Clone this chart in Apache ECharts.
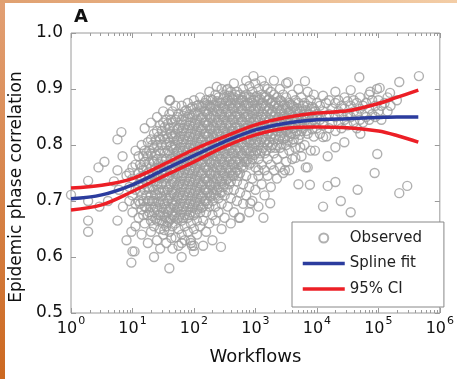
<!DOCTYPE html>
<html><head><meta charset="utf-8">
<script src="https://cdn.jsdelivr.net/npm/echarts@6/dist/echarts.min.js"></script>
<style>html,body{margin:0;padding:0;background:#fff}#c{width:457px;height:379px}</style>
</head><body><div id="c"></div>
<script>
// ---- axis ticks ----
const xTickExponents = ['0','1','2','3','4','5','6'];
const yTickValues = [0.5, 0.6, 0.7, 0.8, 0.9, 1.0];
const minorTickFactors = [2,3,4,5,6,7,8,9];
const minorTickDecades = [1,10,100,1000,10000,100000];

// ---- spline fit and 95% CI ----
const fitX      = [1, 3.16, 10, 31.6, 100, 316, 1000, 3162, 10000, 31623, 100000, 200000, 446700];
const fitY      = [0.704, 0.711, 0.729, 0.755, 0.781, 0.806, 0.827, 0.839, 0.845, 0.847, 0.849, 0.850, 0.850];
const ciUpperY  = [0.723, 0.728, 0.740, 0.765, 0.792, 0.815, 0.836, 0.849, 0.857, 0.861, 0.874, 0.885, 0.898];
const ciLowerY  = [0.684, 0.693, 0.717, 0.744, 0.770, 0.797, 0.818, 0.830, 0.832, 0.831, 0.825, 0.817, 0.805];

// ---- observed points: [workflows, [correlations...]] ----
const obsColumns = [
[8.9,[0.70,0.725,0.75]],
[10,[0.61,0.68,0.71,0.74,0.76]],
[11.2,[0.655,0.695,0.72,0.765,0.79]],
[12.6,[0.67,0.70,0.73,0.75,0.78]],
[14.1,[0.64,0.685,0.71,0.74,0.76,0.80]],
[15.8,[0.66,0.69,0.72,0.745,0.77,0.79,0.83]],
[17.8,[0.625,0.675,0.70,0.725,0.75,0.78,0.805]],
[20,[0.645,0.665,0.69,0.71,0.735,0.76,0.785,0.81,0.84]],
[22.4,[0.60,0.655,0.68,0.70,0.72,0.745,0.77,0.795,0.82]],
[25.1,[0.63,0.665,0.685,0.71,0.73,0.75,0.775,0.80,0.825,0.85]],
[28.2,[0.615,0.65,0.675,0.695,0.715,0.74,0.76,0.785,0.81,0.835]],
[31.6,[0.64,0.66,0.68,0.70,0.72,0.745,0.765,0.79,0.815,0.84,0.86]],
[35.5,[0.625,0.655,0.67,0.69,0.71,0.73,0.755,0.775,0.80,0.82,0.845]],
[39.8,[0.58,0.645,0.665,0.685,0.705,0.725,0.745,0.765,0.785,0.805,0.83,0.855,0.88]],
[44.7,[0.615,0.655,0.675,0.695,0.715,0.735,0.755,0.775,0.795,0.815,0.84,0.86]],
[50.1,[0.635,0.66,0.68,0.70,0.72,0.74,0.76,0.78,0.80,0.82,0.845,0.87]],
[56.2,[0.62,0.65,0.67,0.69,0.71,0.73,0.75,0.77,0.79,0.81,0.83,0.855]],
[63.1,[0.60,0.64,0.665,0.685,0.705,0.725,0.745,0.765,0.785,0.805,0.825,0.845,0.87]],
[70.8,[0.63,0.655,0.675,0.695,0.715,0.735,0.755,0.775,0.795,0.815,0.835,0.86]],
[79.4,[0.645,0.67,0.69,0.71,0.73,0.75,0.77,0.79,0.81,0.83,0.85,0.875]],
[89.1,[0.625,0.66,0.68,0.70,0.72,0.74,0.76,0.78,0.80,0.82,0.84,0.865]],
[100,[0.61,0.65,0.675,0.695,0.715,0.735,0.755,0.775,0.795,0.815,0.835,0.855,0.88]],
[112,[0.64,0.665,0.685,0.705,0.725,0.745,0.765,0.785,0.805,0.825,0.845,0.87]],
[126,[0.655,0.68,0.70,0.72,0.74,0.76,0.78,0.80,0.82,0.84,0.86,0.885]],
[141,[0.62,0.665,0.69,0.71,0.73,0.75,0.77,0.79,0.81,0.83,0.85,0.87]],
[158,[0.645,0.68,0.70,0.72,0.74,0.76,0.78,0.80,0.82,0.84,0.86,0.88]],
[178,[0.66,0.69,0.71,0.73,0.75,0.77,0.79,0.81,0.83,0.85,0.87,0.895]],
[200,[0.63,0.675,0.70,0.72,0.74,0.76,0.78,0.80,0.82,0.84,0.86,0.88]],
[224,[0.665,0.69,0.71,0.73,0.75,0.77,0.79,0.81,0.83,0.85,0.87,0.89]],
[251,[0.68,0.705,0.725,0.745,0.765,0.785,0.805,0.825,0.845,0.865,0.885]],
[282,[0.65,0.695,0.715,0.735,0.755,0.775,0.795,0.815,0.835,0.855,0.875,0.90]],
[316,[0.67,0.71,0.73,0.75,0.77,0.79,0.81,0.83,0.85,0.87,0.89]],
[355,[0.69,0.72,0.74,0.76,0.78,0.80,0.82,0.84,0.86,0.88,0.90]],
[398,[0.66,0.705,0.735,0.755,0.775,0.795,0.815,0.835,0.855,0.875,0.895]],
[447,[0.68,0.72,0.745,0.765,0.785,0.805,0.825,0.845,0.865,0.885,0.91]],
[501,[0.70,0.735,0.755,0.775,0.795,0.815,0.835,0.855,0.875,0.895]],
[562,[0.67,0.715,0.75,0.77,0.79,0.81,0.83,0.85,0.87,0.89]],
[631,[0.695,0.73,0.76,0.78,0.80,0.82,0.84,0.86,0.88,0.90]],
[708,[0.71,0.745,0.77,0.79,0.81,0.83,0.85,0.87,0.89,0.915]],
[794,[0.68,0.725,0.765,0.785,0.805,0.825,0.845,0.865,0.885,0.905]],
[891,[0.70,0.74,0.775,0.795,0.815,0.835,0.855,0.875,0.895]],
[1000,[0.72,0.76,0.785,0.805,0.825,0.845,0.865,0.885,0.91]],
[1120,[0.69,0.745,0.775,0.80,0.82,0.84,0.86,0.88,0.90]],
[1260,[0.73,0.765,0.79,0.81,0.83,0.85,0.87,0.89,0.915]],
[1410,[0.71,0.755,0.785,0.805,0.825,0.845,0.865,0.885,0.905]],
[1580,[0.745,0.775,0.80,0.82,0.84,0.86,0.88,0.90]],
[1780,[0.725,0.765,0.795,0.815,0.835,0.855,0.875,0.895]],
[2000,[0.755,0.785,0.81,0.83,0.85,0.87,0.89,0.915]],
[2240,[0.74,0.775,0.80,0.825,0.845,0.865,0.885]],
[2510,[0.76,0.795,0.815,0.84,0.86,0.88,0.90]],
[2820,[0.75,0.785,0.81,0.83,0.85,0.87,0.89]],
[3160,[0.77,0.80,0.825,0.845,0.865,0.885,0.91]],
[3550,[0.755,0.79,0.815,0.835,0.855,0.875]],
[3980,[0.775,0.805,0.83,0.85,0.87,0.89]],
[4470,[0.795,0.82,0.84,0.86,0.88]],
[5010,[0.73,0.81,0.835,0.855,0.875,0.90]],
[5620,[0.78,0.825,0.845,0.865,0.885]],
[6310,[0.80,0.835,0.855,0.875]],
[7080,[0.76,0.82,0.85,0.87,0.895]],
[7940,[0.79,0.84,0.86,0.88]],
[8910,[0.815,0.845,0.865,0.89]],
[10000,[0.83,0.855,0.875]],
[11200,[0.82,0.845,0.87]],
[12600,[0.835,0.86,0.888]],
[14100,[0.815,0.85,0.875]],
[15800,[0.83,0.855,0.88]],
[17800,[0.84,0.865]],
[20000,[0.825,0.85,0.875,0.895]],
[22400,[0.84,0.86,0.88]],
[25100,[0.83,0.855,0.87]],
[28200,[0.845,0.865,0.885]],
[31600,[0.835,0.855,0.878]],
[35500,[0.85,0.87,0.898]],
[39800,[0.84,0.86,0.88]],
[44700,[0.83,0.855,0.875]],
[50100,[0.845,0.865,0.885]],
[56200,[0.84,0.87]],
[63100,[0.85,0.875]],
[70800,[0.845,0.865,0.89]],
[79400,[0.855,0.88]],
[89100,[0.85,0.87]],
[100000,[0.86,0.88]],
[112000,[0.845,0.87]],
[126000,[0.875]],
[141000,[0.86,0.885]],
[158000,[0.87]],
[200000,[0.88]]
];
// dense core, in-between columns
const obsCoreColumns = [
[13.3,[0.695,0.718,0.742,0.765]],
[15.0,[0.675,0.70,0.73,0.755,0.78]],
[16.8,[0.688,0.71,0.735,0.76,0.785]],
[18.8,[0.68,0.70,0.722,0.745,0.768,0.79]],
[21.1,[0.673,0.70,0.725,0.748,0.772,0.80]],
[23.7,[0.668,0.69,0.712,0.735,0.758,0.782,0.808]],
[26.6,[0.675,0.698,0.72,0.742,0.766,0.79,0.815]],
[29.9,[0.665,0.688,0.708,0.73,0.752,0.775,0.80,0.825]],
[33.5,[0.672,0.695,0.718,0.74,0.762,0.786,0.81,0.832]],
[37.6,[0.662,0.68,0.70,0.72,0.742,0.765,0.79,0.812,0.838]],
[42.2,[0.668,0.688,0.71,0.73,0.752,0.775,0.798,0.82,0.845]],
[47.3,[0.672,0.692,0.712,0.732,0.752,0.772,0.792,0.812,0.832]],
[53.1,[0.668,0.688,0.708,0.728,0.748,0.768,0.788,0.808,0.828,0.85]],
[59.6,[0.676,0.696,0.716,0.736,0.756,0.776,0.796,0.816,0.836]],
[66.8,[0.67,0.69,0.71,0.73,0.75,0.77,0.79,0.81,0.83,0.852]],
[75.0,[0.682,0.702,0.722,0.742,0.762,0.782,0.802,0.822,0.842,0.862]],
[84.1,[0.675,0.695,0.715,0.735,0.755,0.775,0.795,0.815,0.835,0.855]],
[94.4,[0.688,0.708,0.728,0.748,0.768,0.788,0.808,0.828,0.848,0.868]],
[106,[0.678,0.698,0.718,0.738,0.758,0.778,0.798,0.818,0.838,0.858]],
[119,[0.692,0.712,0.732,0.752,0.772,0.792,0.812,0.832,0.852,0.872]],
[133,[0.688,0.708,0.728,0.748,0.768,0.788,0.808,0.828,0.848,0.868]],
[150,[0.70,0.72,0.74,0.76,0.78,0.80,0.82,0.84,0.86,0.875]],
[168,[0.695,0.715,0.735,0.755,0.775,0.795,0.815,0.835,0.855,0.872]],
[188,[0.708,0.728,0.748,0.768,0.788,0.808,0.828,0.848,0.868,0.882]],
[211,[0.712,0.732,0.752,0.772,0.792,0.812,0.832,0.852,0.872]],
[237,[0.72,0.74,0.76,0.78,0.80,0.82,0.84,0.86,0.878]],
[266,[0.715,0.735,0.755,0.775,0.795,0.815,0.835,0.855,0.875]],
[299,[0.725,0.745,0.765,0.785,0.805,0.825,0.845,0.865,0.882]],
[335,[0.738,0.758,0.778,0.798,0.818,0.838,0.858,0.878]],
[376,[0.73,0.75,0.77,0.79,0.81,0.83,0.85,0.87,0.888]],
[422,[0.745,0.765,0.785,0.805,0.825,0.845,0.865,0.882]],
[473,[0.752,0.772,0.792,0.812,0.832,0.852,0.872,0.89]],
[531,[0.745,0.765,0.785,0.805,0.825,0.845,0.865,0.882]],
[596,[0.762,0.782,0.802,0.822,0.842,0.862,0.88]],
[668,[0.77,0.79,0.81,0.83,0.85,0.87,0.887]],
[750,[0.775,0.795,0.815,0.835,0.855,0.875]],
[841,[0.768,0.788,0.808,0.828,0.848,0.868,0.885]],
[944,[0.782,0.802,0.822,0.842,0.862,0.88]],
[1060,[0.79,0.81,0.83,0.85,0.87,0.888]],
[1190,[0.785,0.805,0.825,0.845,0.865,0.882]],
[1330,[0.795,0.815,0.835,0.855,0.875]],
[1500,[0.79,0.81,0.83,0.85,0.87,0.887]],
[1680,[0.805,0.825,0.845,0.865,0.882]],
[1880,[0.80,0.82,0.84,0.86,0.878]],
[2110,[0.795,0.818,0.838,0.858,0.876]],
[2370,[0.81,0.83,0.85,0.87]],
[2660,[0.802,0.822,0.842,0.862,0.878]],
[2990,[0.812,0.832,0.852,0.872]],
[3350,[0.808,0.828,0.848,0.868]],
[3760,[0.82,0.84,0.86,0.872]],
[4220,[0.81,0.83,0.85,0.868]],
[4730,[0.825,0.845,0.865]],
[5310,[0.818,0.84,0.86]],
[5960,[0.83,0.85,0.87]],
[6680,[0.825,0.845,0.862]],
[7500,[0.835,0.855]],
[8410,[0.828,0.85,0.868]],
[9440,[0.84,0.86]]
];
const obsOutliers = [
[1,0.711],[1.9,0.736],[1.9,0.70],[1.9,0.665],[1.9,0.645],[2.8,0.76],[2.9,0.69],[3.5,0.77],
[5.7,0.81],[6.6,0.823],[6.9,0.78],[5.7,0.755],[5.7,0.665],[9.6,0.645],[8,0.63],[10.8,0.61],
[9.6,0.59],[4,0.70],[6,0.72],[7,0.69],[8,0.745],[5,0.735],
[930,0.923],[41,0.88],[3400,0.912],[6400,0.914],[340,0.898],[235,0.904],[49000,0.921],
[219000,0.9125],[457000,0.923],[105000,0.902],[74000,0.895],[155000,0.893],[95000,0.90],
[96000,0.784],[87000,0.75],[15000,0.78],[9300,0.79],[20000,0.796],[28000,0.805],[12600,0.814],
[51000,0.82],[7700,0.729],[15000,0.727],[20000,0.734],[46000,0.72],[12600,0.69],[24500,0.70],
[35500,0.68],[219000,0.714],[295000,0.727],[3020,0.755],[4470,0.777],[5370,0.796],[6600,0.76],
[830,0.696],[1350,0.67],[540,0.67],[1740,0.696],[275,0.618],[93,0.62],[1120,0.755],
[33,0.648],[43,0.634],[63,0.625],[89,0.63],[100,0.62]
];

// ---- build series data ----
const observed = [];
obsColumns.forEach(([w, vs]) => vs.forEach(v => observed.push([w, v])));
obsCoreColumns.forEach(([w, vs]) => vs.forEach(v => observed.push([w, v])));
obsOutliers.forEach(p => observed.push(p));
const fitData = fitX.map((x, i) => [x, fitY[i]]);
const upData = fitX.map((x, i) => [x, ciUpperY[i]]);
const loData = fitX.map((x, i) => [x, ciLowerY[i]]);
const minorTicks = [];
minorTickDecades.forEach(d => minorTickFactors.forEach(f => minorTicks.push([d * f, 0.5])));

const FONT = 'DejaVu Sans';
const frameColor = '#9a9a9a';

const chart = echarts.init(document.getElementById('c'), null, {renderer: 'canvas'});
const xBase = {
  type: 'log', logBase: 10, min: 1, max: 1000000, splitNumber: 6,
  axisLine: {show: false}, splitLine: {show: false},
  axisTick: {show: true, inside: true, length: 5, lineStyle: {color: frameColor}}
};
const yBase = {
  type: 'value', min: 0.5, max: 1.0, interval: 0.1,
  axisLine: {show: false}, splitLine: {show: false},
  axisTick: {show: true, inside: true, length: 5, lineStyle: {color: frameColor}}
};
const hideSym = {color: 'rgba(0,0,0,0)', borderColor: 'rgba(0,0,0,0)', borderWidth: 0, opacity: 0};
chart.setOption({
  animation: false,
  backgroundColor: '#ffffff',
  title: {text: 'A', left: 74, top: 8, padding: 0,
    textStyle: {fontFamily: FONT, fontSize: 18, fontWeight: 'bold', color: '#111'}},
  grid: {left: 71, right: 14, top: 33, bottom: 66, show: true,
    borderColor: frameColor, borderWidth: 1, backgroundColor: 'transparent'},
  xAxis: [
    Object.assign({}, xBase, {
      position: 'bottom', name: 'Workflows', nameLocation: 'middle', nameGap: 35,
      nameTextStyle: {fontFamily: FONT, fontSize: 18, color: '#111'},
      axisLabel: {margin: 8, fontFamily: FONT, color: '#111',
        formatter: v => '{b|10}{s|' + xTickExponents[Math.round(Math.log10(v))] + '}',
        rich: {
          b: {fontFamily: FONT, fontSize: 16, color: '#111', verticalAlign: 'bottom', lineHeight: 16},
          s: {fontFamily: FONT, fontSize: 11, color: '#111', verticalAlign: 'bottom', lineHeight: 11, padding: [0, 0, 10, 1]}
        }}
    }),
    Object.assign({}, xBase, {position: 'top', axisLabel: {show: false}})
  ],
  yAxis: [
    Object.assign({}, yBase, {
      position: 'left', name: 'Epidemic phase correlation', nameLocation: 'middle', nameGap: 44,
      nameTextStyle: {fontFamily: FONT, fontSize: 17, color: '#111', padding: [0, 28, 0, 0]},
      axisLabel: {margin: 8, fontFamily: FONT, fontSize: 17, color: '#111', formatter: v => v.toFixed(1)}
    }),
    Object.assign({}, yBase, {position: 'right', axisLabel: {show: false}})
  ],
  legend: {
    orient: 'vertical', left: 292, top: 222,
    data: [
      {name: 'Observed', icon: 'circle'},
      {name: 'Spline fit', itemStyle: hideSym, lineStyle: {width: 3.5}},
      {name: '95% CI', itemStyle: hideSym, lineStyle: {width: 3.5}}
    ],
    itemWidth: 42, itemHeight: 9, itemGap: 7.5,
    padding: [7, 22, 9, 9],
    backgroundColor: '#fff', borderColor: '#888', borderWidth: 1, borderRadius: 0,
    textStyle: {fontFamily: FONT, fontSize: 15, color: '#222', lineHeight: 18},
    selectedMode: false, z: 10
  },
  graphic: [
    {type: 'rect', left: 0, top: 0, shape: {width: 5, height: 379}, z: 100,
      style: {fill: new echarts.graphic.LinearGradient(0, 0, 0, 1, [{offset: 0, color: '#e2a074'}, {offset: 1, color: '#cc6820'}])}},
    {type: 'rect', left: 0, top: 0, shape: {width: 457, height: 3}, z: 100,
      style: {fill: new echarts.graphic.LinearGradient(0, 0, 1, 0, [{offset: 0, color: '#e0a070'}, {offset: 1, color: '#f3cda6'}])}}
  ],
  series: [
    {name: 'Observed', type: 'scatter', data: observed, symbol: 'circle', symbolSize: 9, z: 2, large: false,
      itemStyle: {color: 'rgba(255,255,255,0)', borderColor: '#9c9c9c', borderWidth: 1.4}, silent: true},
    {name: 'Spline fit', type: 'line', data: fitData, smooth: 0.35, showSymbol: false, symbol: 'none', z: 3,
      lineStyle: {color: '#2b3c9e', width: 3.5}, itemStyle: {color: '#2b3c9e'}},
    {name: '95% CI', type: 'line', data: upData, smooth: 0.35, showSymbol: false, symbol: 'none', z: 4,
      lineStyle: {color: '#ec1f26', width: 3.5}, itemStyle: {color: '#ec1f26'}},
    {name: '95% CI', type: 'line', data: loData, smooth: 0.35, showSymbol: false, symbol: 'none', z: 4,
      lineStyle: {color: '#ec1f26', width: 3.5}, itemStyle: {color: '#ec1f26'}},
    {name: 'minor ticks', type: 'custom', data: minorTicks, silent: true, z: 5,
      renderItem: (params, api) => {
        const w = api.value(0);
        const b = api.coord([w, 0.5]);
        const t = api.coord([w, 1.0]);
        const x = Math.round(b[0]) + 0.5;
        return {type: 'group', children: [
          {type: 'line', shape: {x1: x, y1: b[1], x2: x, y2: b[1] - 3}, style: {stroke: frameColor, lineWidth: 1}},
          {type: 'line', shape: {x1: x, y1: t[1], x2: x, y2: t[1] + 3}, style: {stroke: frameColor, lineWidth: 1}}
        ]};
      }}
  ]
});
</script></body></html>
